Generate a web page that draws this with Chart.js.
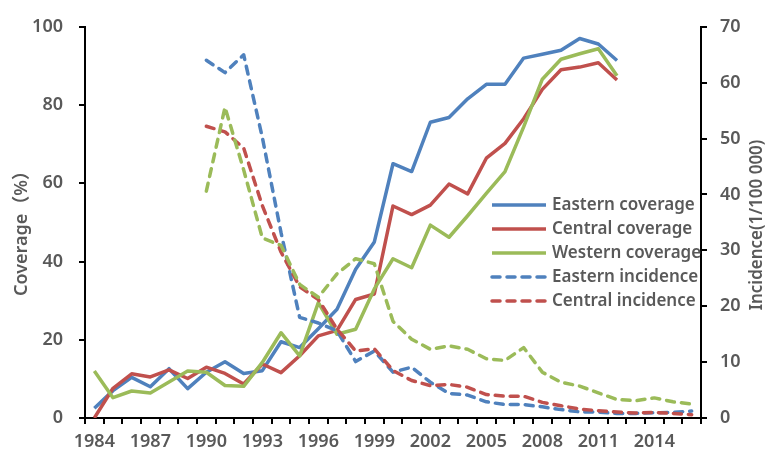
<!DOCTYPE html>
<html>
<head>
<meta charset="utf-8">
<script src="https://cdn.jsdelivr.net/npm/chart.js@4.4.1/dist/chart.umd.min.js"></script>
<style>
  body { margin: 0; background: #fff; }
  #wrap { width: 767px; height: 451px; }
</style>
</head>
<body>
<div id="wrap"><canvas id="graf" width="767" height="451"></canvas></div>
<script>
const years = ["1984", "1985", "1986", "1987", "1988", "1989", "1990", "1991", "1992", "1993", "1994",
    "1995", "1996", "1997", "1998", "1999", "2000", "2001", "2002", "2003", "2004", "2005",
    "2006", "2007", "2008", "2009", "2010", "2011", "2012", "2013", "2014", "2015", "2016"];

// coverage (%) 1984-2012
const eastCov = [2.5, 7, 10.4, 8, 12.6, 7.5, 11.7, 14.4, 11.4, 12.1, 19.5, 18, 22.8, 27.8, 38, 45,
    65, 63, 75.6, 76.8, 81.6, 85.3, 85.3, 92, 93, 94, 97, 95.6, 91.4, null, null, null, null];
const centralCov = [0, 7.6, 11.3, 10.5, 12.3, 10.1, 13, 11.4, 8.7, 13.8, 11.6, 15.9, 21, 22.4, 30.3, 31.7,
    54.2, 52, 54.4, 59.8, 57.3, 66.4, 70.2, 76.5, 84, 89, 89.7, 90.8, 86.4, null, null, null, null];
const westCov = [12, 5.2, 6.9, 6.4, 9.2, 12, 11.7, 8.3, 8.1, 14.2, 21.8, 15.9, 29.5, 21.4, 22.7, 33,
    40.7, 38.4, 49.3, 46.2, 51.7, 57.4, 63, 74.4, 86.6, 91.7, 93.1, 94.4, 87.5, null, null, null, null];

// incidence (1/100 000) 1990-2016
const eastInc = [null, null, null, null, null, null, 64, 61.8, 65, 50.2, 33.2, 18, 17, 15.6, 10.1, 12,
    8.2, 9.1, 6.4, 4.4, 4.1, 2.9, 2.4, 2.4, 2.0, 1.5, 1.1, 1.05, 0.82, 0.82, 0.94, 1.0, 1.24];
const centralInc = [null, null, null, null, null, null, 52.2, 51.2, 48.3, 38, 29.7, 23.5, 21.2, 15.9, 12, 12.4,
    8.5, 6.7, 5.8, 6.0, 5.5, 4.2, 3.9, 3.9, 2.8, 2.2, 1.6, 1.3, 1.06, 0.88, 1.0, 0.82, 0.6];
const westInc = [null, null, null, null, null, null, 40.6, 55.6, 44.4, 32.2, 30.9, 23.9, 21.6, 25.8, 28.5, 27.6,
    17.3, 14.1, 12.3, 12.9, 12.3, 10.6, 10.3, 12.6, 8.2, 6.4, 5.7, 4.5, 3.3, 3.1, 3.6, 2.9, 2.5];

const blue = "#4F81BD";
const red = "#C0504D";
const green = "#9BBB59";
const txt = "#595959";
const fontName = '"Noto Sans", "Noto Sans CJK SC", sans-serif';
const dash = [8, 7];

function serie(label, data, color, axis, dashed, ord) {
    return {
        label: label,
        data: data,
        borderColor: color,
        backgroundColor: color,
        borderWidth: 3.5,
        borderDash: dashed ? dash : [],
        borderCapStyle: dashed ? "round" : "butt",
        borderJoinStyle: "round",
        pointRadius: 0,
        tension: 0,
        fill: false,
        yAxisID: axis,
        order: ord
    };
}

// legend + axis titles drawn by hand (legend sits inside the plot, right title reads upwards)
const extras = {
    id: "extras",
    afterDraw(chart) {
        const ctx = chart.ctx;
        ctx.save();
        ctx.fillStyle = txt;
        ctx.textAlign = "center";
        ctx.textBaseline = "middle";
        ctx.font = "600 18px " + fontName;
        ctx.translate(22, 229);
        ctx.rotate(-Math.PI / 2);
        ctx.fillText("Coverage（%）", 0, 0);
        ctx.restore();

        ctx.save();
        ctx.fillStyle = txt;
        ctx.textAlign = "center";
        ctx.textBaseline = "middle";
        ctx.font = "600 17px " + fontName;
        ctx.translate(757, 225);
        ctx.rotate(-Math.PI / 2);
        ctx.fillText("Incidence(1/100 000)", 0, 0);
        ctx.restore();

        const sets = chart.data.datasets.slice(0, 5);
        ctx.save();
        ctx.font = "600 17px " + fontName;
        ctx.textBaseline = "middle";
        ctx.textAlign = "left";
        sets.forEach((ds, i) => {
            const y = 205 + i * 24;
            ctx.strokeStyle = ds.borderColor;
            ctx.lineWidth = 3.5;
            ctx.lineCap = ds.borderDash.length ? "round" : "butt";
            ctx.setLineDash(ds.borderDash);
            ctx.beginPath();
            ctx.moveTo(492, y);
            ctx.lineTo(546, y);
            ctx.stroke();
            ctx.setLineDash([]);
            ctx.fillStyle = txt;
            ctx.fillText(ds.label, 552, y);
        });
        ctx.restore();
    }
};

const tickFont = { family: fontName, size: 18, weight: 600 };

new Chart(document.getElementById("graf"), {
    type: "line",
    data: {
        labels: years,
        datasets: [
            serie("Eastern coverage", eastCov, blue, "y", false, 6),
            serie("Central coverage", centralCov, red, "y", false, 5),
            serie("Western coverage", westCov, green, "y", false, 4),
            serie("Eastern incidence", eastInc, blue, "y1", true, 3),
            serie("Central incidence", centralInc, red, "y1", true, 2),
            serie("Western incidence", westInc, green, "y1", true, 1)
        ]
    },
    options: {
        responsive: false,
        animation: false,
        layout: { padding: { top: 22, left: 0, right: 0, bottom: 0 } },
        plugins: {
            legend: { display: false },
            tooltip: { enabled: false }
        },
        scales: {
            x: {
                offset: true,
                grid: { offset: true, drawOnChartArea: false, drawTicks: true, tickLength: 6, color: "#000", lineWidth: 2 },
                border: { color: "#000", width: 2 },
                ticks: {
                    autoSkip: false,
                    maxRotation: 0,
                    padding: 7,
                    color: txt,
                    font: tickFont,
                    callback: (v, i) => (i % 3 === 0 ? years[i] : "")
                },
                afterFit: (s) => { s.height = 33; }
            },
            y: {
                position: "left",
                min: 0,
                max: 100,
                ticks: { stepSize: 20, padding: 16, color: txt, font: tickFont },
                grid: { drawOnChartArea: false, tickLength: 6, color: "#000", lineWidth: 2 },
                border: { color: "#000", width: 2 },
                afterFit: (s) => { s.width = 85; }
            },
            y1: {
                position: "right",
                min: 0,
                max: 70,
                ticks: { stepSize: 10, padding: 13, color: txt, font: tickFont },
                grid: { drawOnChartArea: false, tickLength: 6, color: "#000", lineWidth: 2 },
                border: { color: "#000", width: 2 },
                afterFit: (s) => { s.width = 66; }
            }
        }
    },
    plugins: [extras]
});
</script>
</body>
</html>
